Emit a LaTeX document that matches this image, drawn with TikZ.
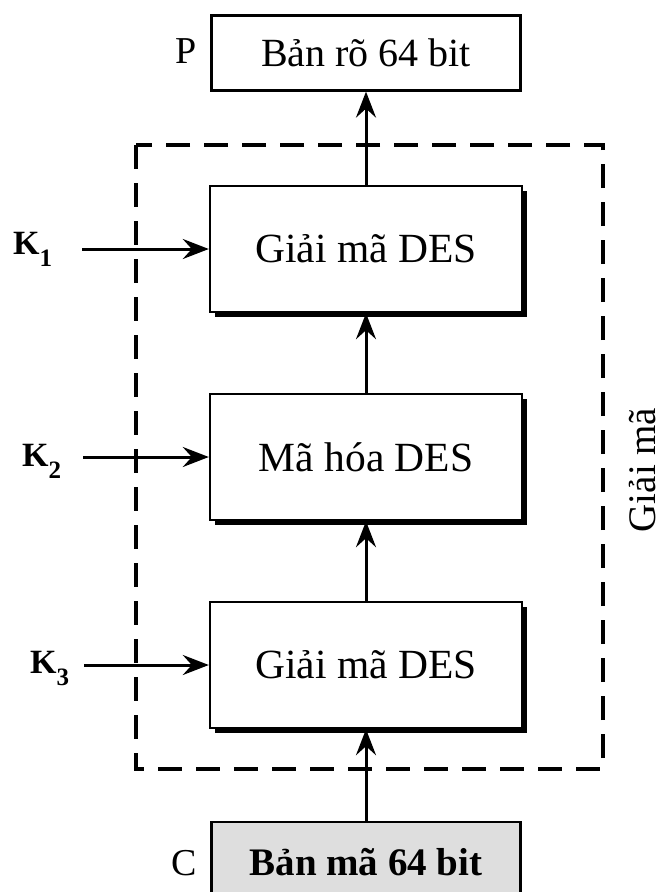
\documentclass[tikz,border=0pt]{standalone}
\usepackage{fontspec}
\setmainfont{Liberation Serif}
\usetikzlibrary{positioning,arrows.meta,shadows}
\newcommand{\keyname}[1]{\textbf{K}\raisebox{-12pt}{\fontsize{25}{28}\selectfont\bfseries #1}}

\begin{document}
\begin{tikzpicture}[
  x=1pt, y=-1pt,
  node distance=208pt,
  box/.style={draw, line width=2.4pt, fill=white, minimum width=312pt, minimum height=126pt,
    font=\fontsize{41.5}{48}\selectfont,
    drop shadow={shadow xshift=5pt, shadow yshift=-5pt, fill=black, opacity=1}},
  io/.style={draw, line width=2.2pt, minimum width=309pt, minimum height=75pt, font=\fontsize{40}{46}\selectfont},
  lbl/.style={font=\fontsize{38}{46}\selectfont, inner sep=0pt},
  key/.style={font=\fontsize{34}{40}\selectfont, inner sep=0pt, anchor=base west},
  flow/.style={-{Stealth[length=26pt, width=20pt, inset=9pt]}, line width=3pt},
  frame/.style={line width=3.6pt, dash pattern=on 24pt off 14pt}
]
\useasboundingbox (0,0) rectangle (666,892);
\clip (0,0) rectangle (666,892);

% DES blocks
\node[box] (dec1) at (366,249) {Giải mã DES};
\node[box] (enc)  [below of=dec1] {Mã hóa DES};
\node[box] (dec2) [below of=enc] {Giải mã DES};

% plaintext and ciphertext
\node[io] (plain)  [above of=dec1, node distance=196pt] {Bản rõ 64 bit};
\node[io, fill=black!13, minimum height=80pt, font=\fontsize{39}{46}\selectfont\bfseries]
  (cipher) [below of=dec2, node distance=197pt] {Bản mã 64 bit};
\node[lbl, anchor=base east] (p) at (197,63) {P};
\node[lbl, anchor=base east] (c) at (197,875) {C};

% keys
\node[key] (k1) at (13,254) {\keyname{1}};
\node[key] (k2) at (22,466) {\keyname{2}};
\node[key] (k3) at (30,673) {\keyname{3}};

% dashed frame
\draw[frame] (136,145) rectangle (603,769);
\node[lbl, rotate=90, font=\fontsize{39}{46}\selectfont] (side) at (643,470) {Giải mã};

\draw[flow] (cipher) -- (dec2);
\draw[flow] (dec2) -- (enc);
\draw[flow] (enc) -- (dec1);
\draw[flow] (dec1) -- (plain);
\draw[flow] (k1.east |- dec1.west) ++(30,0) -- (dec1.west);
\draw[flow] (k2.east |- enc.west) ++(22,0) -- (enc.west);
\draw[flow] (k3.east |- dec2.west) ++(15,0) -- (dec2.west);
\end{tikzpicture}
\end{document}
